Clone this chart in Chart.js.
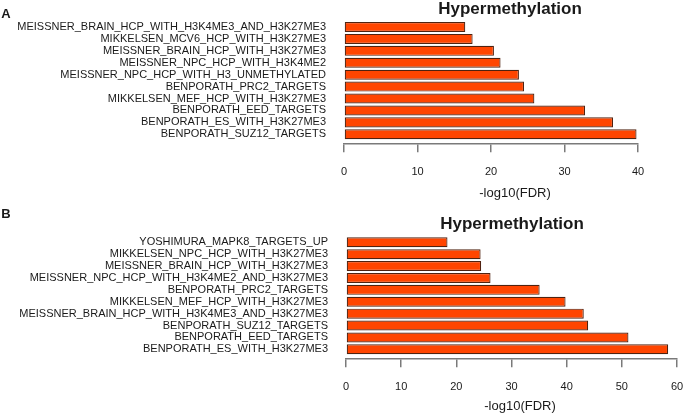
<!DOCTYPE html>
<html>
<head>
<meta charset="utf-8">
<script src="https://cdn.jsdelivr.net/npm/chart.js@4.4.1/dist/chart.umd.min.js"></script>
<style>
  body { margin: 0; background: #fff; width: 685px; height: 417px; overflow: hidden; position: relative;
         font-family: "Liberation Sans", Arial, sans-serif; color: #1a1a1a; }
  .panel { position: absolute; left: 0; width: 685px; }
  .txt { position: absolute; transform: translate(-50%, -50%); white-space: nowrap; line-height: 1; }
  .letter { font-weight: bold; font-size: 13px; }
  .title { font-weight: bold; font-size: 17px; }
  .xlab { font-size: 13px; }
</style>
</head>
<body>
<div class="panel" style="top:0;height:200px"><canvas id="chartA"></canvas></div>
<div class="panel" style="top:200px;height:217px"><canvas id="chartB"></canvas></div>

<div class="txt letter" style="left:6px;top:13px">A</div>
<div class="txt title" style="left:510px;top:8px">Hypermethylation</div>
<div class="txt xlab" style="left:515px;top:192px">-log10(FDR)</div>

<div class="txt letter" style="left:6px;top:213px">B</div>
<div class="txt title" style="left:512px;top:223px">Hypermethylation</div>
<div class="txt xlab" style="left:520px;top:405px">-log10(FDR)</div>

<script>
// panel A, listed top to bottom as drawn
const labelsA = [
    'MEISSNER_BRAIN_HCP_WITH_H3K4ME3_AND_H3K27ME3',
    'MIKKELSEN_MCV6_HCP_WITH_H3K27ME3',
    'MEISSNER_BRAIN_HCP_WITH_H3K27ME3',
    'MEISSNER_NPC_HCP_WITH_H3K4ME2',
    'MEISSNER_NPC_HCP_WITH_H3_UNMETHYLATED',
    'BENPORATH_PRC2_TARGETS',
    'MIKKELSEN_MEF_HCP_WITH_H3K27ME3',
    'BENPORATH_EED_TARGETS',
    'BENPORATH_ES_WITH_H3K27ME3',
    'BENPORATH_SUZ12_TARGETS'
];
const valuesA = [16.5, 17.5, 20.4, 21.3, 23.8, 24.5, 25.9, 32.8, 36.6, 39.8];
const ticksA = [0, 10, 20, 30, 40];

// panel B
const labelsB = [
    'YOSHIMURA_MAPK8_TARGETS_UP',
    'MIKKELSEN_NPC_HCP_WITH_H3K27ME3',
    'MEISSNER_BRAIN_HCP_WITH_H3K27ME3',
    'MEISSNER_NPC_HCP_WITH_H3K4ME2_AND_H3K27ME3',
    'BENPORATH_PRC2_TARGETS',
    'MIKKELSEN_MEF_HCP_WITH_H3K27ME3',
    'MEISSNER_BRAIN_HCP_WITH_H3K4ME3_AND_H3K27ME3',
    'BENPORATH_SUZ12_TARGETS',
    'BENPORATH_EED_TARGETS',
    'BENPORATH_ES_WITH_H3K27ME3'
];
const valuesB = [18.4, 24.4, 24.5, 26.2, 35.1, 39.8, 43.1, 43.9, 51.2, 58.4];
const ticksB = [0, 10, 20, 30, 40, 50, 60];

const FONT = '"Liberation Sans", Arial, sans-serif';
const AXIS_GREY = '#7a7a7a';
const TEXT = '#1a1a1a';

function makeChart(id, labels, values, xticks, box){
    var ctx = document.getElementById(id).getContext('2d');
    return new Chart(ctx, {
        type: 'bar',
        data: {
            datasets: [{
                data: values.map((v, i) => ({x: v, y: i})),
                backgroundColor: '#ff4500',
                borderColor: '#4f2210',
                borderWidth: 1.2,
                borderSkipped: false,
                categoryPercentage: 1,
                barPercentage: 0.84
            }]
        },
        options: {
            indexAxis: 'y',
            responsive: true,
            maintainAspectRatio: false,
            animation: false,
            layout: { padding: { top: box.top, right: box.right, left: 0, bottom: 0 } },
            plugins: { legend: { display: false }, tooltip: { enabled: false }, title: { display: false } },
            scales: {
                y: {
                    type: 'linear',
                    offset: false,
                    reverse: true,
                    min: -0.755,
                    max: labels.length - 1 + 0.755,
                    afterFit: (s) => { s.width = box.left; s.paddingTop = 0; s.paddingBottom = 0; },
                    grid: { display: false, drawTicks: false, offset: false },
                    border: { display: false },
                    ticks: {
                        stepSize: 1,
                        autoSkip: false,
                        includeBounds: false,
                        padding: 18,
                        color: TEXT,
                        font: { family: FONT, size: 11 },
                        callback: (v) => Number.isInteger(v) ? labels[v] : ''
                    }
                },
                x: {
                    type: 'linear',
                    min: xticks[0],
                    max: xticks[xticks.length - 1],
                    afterFit: (s) => { s.height = box.axisH; s.paddingLeft = 0; s.paddingRight = 0; },
                    grid: { drawOnChartArea: false, drawTicks: true, tickLength: 9, color: AXIS_GREY, lineWidth: 1.5 },
                    border: { display: true, color: AXIS_GREY, width: 1.5 },
                    ticks: {
                        stepSize: xticks[1] - xticks[0],
                        padding: 13,
                        maxRotation: 0,
                        color: TEXT,
                        font: { family: FONT, size: 11 }
                    }
                }
            }
        }
    });
}

makeChart('chartA', labelsA, valuesA, ticksA, { left: 344, top: 18, right: 47, axisH: 56.7 });
makeChart('chartB', labelsB, valuesB, ticksB, { left: 346, top: 33.3, right: 8, axisH: 58.7 });
</script>
</body>
</html>
